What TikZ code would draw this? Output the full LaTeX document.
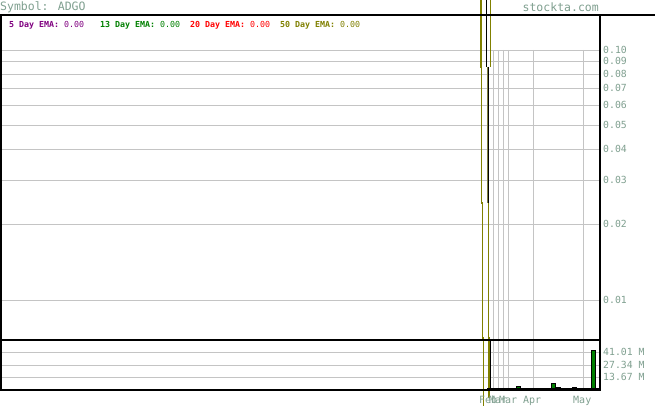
\documentclass[tikz,border=0pt]{standalone}
\usepackage{fontspec}
\newfontfamily\chartfont{DejaVu Sans Mono}
\definecolor{axtxt}{RGB}{128,160,144}
\definecolor{gridc}{RGB}{196,196,196}
\definecolor{emapurple}{RGB}{128,0,128}
\definecolor{emagreen}{RGB}{0,128,0}
\definecolor{emared}{RGB}{255,0,0}
\definecolor{emaolive}{RGB}{128,128,0}
\definecolor{volgreen}{RGB}{0,128,0}
\tikzset{
  gridline/.style={draw=gridc, line width=1pt},
  frameline/.style={draw=black, line width=2pt},
  oliveline/.style={draw=emaolive, line width=1.3pt},
  pricelabel/.style={anchor=west, inner sep=0pt, text=axtxt, font=\chartfont\fontsize{9.8}{10}\selectfont},
  datelabel/.style={anchor=north west, inner sep=0pt, text=axtxt, font=\chartfont\fontsize{10}{10}\selectfont},
  legend/.style={anchor=west, inner sep=0pt, font=\chartfont\fontsize{8.3}{9}\selectfont},
  volbar/.style={fill=volgreen, draw=black, line width=1pt},
}
\begin{document}
\begin{tikzpicture}[x=1pt,y=-1pt]
\useasboundingbox (0,0) rectangle (655,406);
\fill[white] (0,0) rectangle (655,406);
% horizontal price grid
\foreach \yy in {50.5,61.5,74.5,88.5,105.5,125.5,149.5,180.5,224.5,300.5}
  \draw[gridline] (1,\yy) -- (600,\yy);
% volume grid
\foreach \yy in {352.5,365.5,377.5}
  \draw[gridline] (1,\yy) -- (600,\yy);
% vertical grid
\foreach \xx in {493.5,498.5,503.5,508.5,533.5,583.5}
  \draw[gridline] (\xx,50) -- (\xx,390);
% price / EMA lines
\draw[oliveline] (481,0) -- (481,67) -- (481.5,67) -- (481.5,203) -- (482.5,203) -- (482.5,338) -- (483.5,338) -- (483.5,406);
\draw[oliveline] (490.5,0) -- (490.5,67);
\draw[draw=black, line width=1.3pt] (486.8,0) -- (486.8,67);
\draw[draw=emaolive!50!gray, line width=1pt] (487.3,67) -- (487.3,203);
\draw[draw=black, line width=1.2pt] (488.3,67) -- (488.3,203);
\draw[oliveline] (488.5,203) -- (488.5,338) -- (489,338) -- (489,398);
\draw[draw=black, line width=1.3pt] (490.3,340) -- (490.3,390);
% volume bars
\draw[volbar] (516.5,386.5) rectangle (520.5,390);
\draw[volbar] (551,383.5) rectangle (555,390);
\draw[volbar] (556,387) rectangle (560,390);
\draw[volbar] (572,387) rectangle (576,390);
\draw[volbar] (591.5,350.5) rectangle (595.5,390);
% frames
\draw[frameline] (0,15) -- (655,15);
\draw[frameline] (1,15) -- (1,390);
\draw[frameline] (600,15) -- (600,391);
\draw[frameline] (0,340) -- (600,340);
\draw[frameline] (0,390) -- (600,390);
\draw[draw=black, line width=2.5pt] (487,389.5) -- (600,389.5);
% header
\node[anchor=west, inner sep=0pt, text=axtxt, font=\chartfont\fontsize{11.5}{12}\selectfont] (sym) at (0,7) {Symbol: ADGO};
\node[anchor=east, inner sep=0pt, text=axtxt, font=\chartfont\fontsize{11.5}{12}\selectfont] (site) at (599,7) {stockta.com};
% legend
\node[legend, text=emapurple] (e5) at (9,25) {\bfseries 5 Day EMA:\mdseries{} 0.00};
\node[legend, text=emagreen] (e13) at (100,25) {\bfseries 13 Day EMA:\mdseries{} 0.00};
\node[legend, text=emared] (e20) at (190,25) {\bfseries 20 Day EMA:\mdseries{} 0.00};
\node[legend, text=emaolive] (e50) at (280,25) {\bfseries 50 Day EMA:\mdseries{} 0.00};
% price labels
\node[pricelabel] (p10) at (603,50) {0.10};
\node[pricelabel] (p09) at (603,61) {0.09};
\node[pricelabel] (p08) at (603,74) {0.08};
\node[pricelabel] (p07) at (603,88) {0.07};
\node[pricelabel] (p06) at (603,105) {0.06};
\node[pricelabel] (p05) at (603,125) {0.05};
\node[pricelabel] (p04) at (603,149) {0.04};
\node[pricelabel] (p03) at (603,180) {0.03};
\node[pricelabel] (p02) at (603,224) {0.02};
\node[pricelabel] (p01) at (603,300) {0.01};
% volume labels
\node[pricelabel] (v1) at (603,352) {41.01 M};
\node[pricelabel] (v2) at (603,365) {27.34 M};
\node[pricelabel] (v3) at (603,377) {13.67 M};
% date labels
\node[datelabel] (d1) at (479,396) {Feb};
\node[datelabel] (d2) at (489,396) {Mar};
\node[datelabel] (d3) at (499,396) {Mar};
\node[datelabel] (d4) at (523,396) {Apr};
\node[datelabel] (d5) at (573,396) {May};
\end{tikzpicture}
\end{document}
